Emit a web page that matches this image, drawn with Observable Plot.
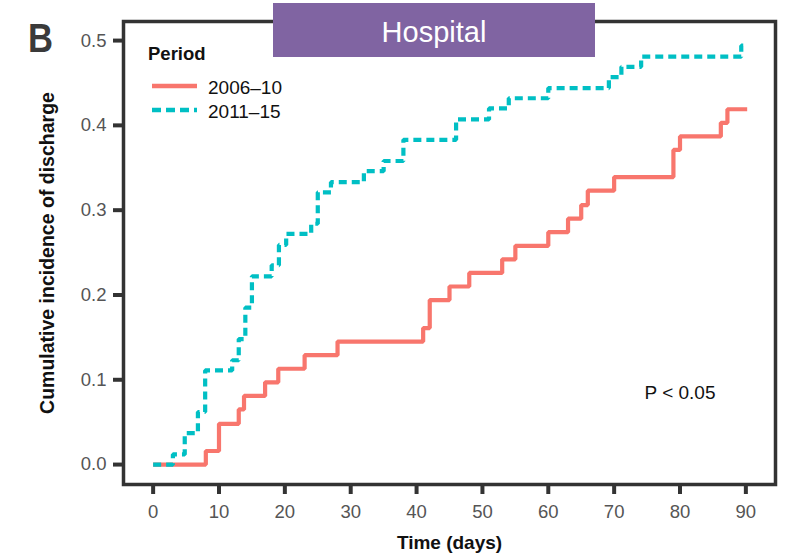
<!DOCTYPE html>
<html>
<head>
<meta charset="utf-8">
<script src="https://cdn.jsdelivr.net/npm/d3@7"></script>
<script src="https://cdn.jsdelivr.net/npm/@observablehq/plot@0.6"></script>
<style>
  html, body { margin: 0; padding: 0; background: #fff; }
  #wrap { position: relative; width: 785px; height: 555px; font-family: "Liberation Sans", Arial, Helvetica, sans-serif; }
  #overlay { position: absolute; left: 0; top: 0; pointer-events: none; }
</style>
</head>
<body>
<div id="wrap"></div>
<script>
// ---- Data ----
const periods = ["2006–10", "2011–15"];
const colors = ["#F8766D", "#00BFC4"];

const time2006 = [0, 8, 10, 13, 13.8, 17, 19, 23, 28, 41, 42, 45, 48, 53, 55, 60, 63, 65, 66, 70, 79, 80, 86.2, 87.2, 90.2];
const cum2006  = [0, 0.016, 0.048, 0.065, 0.081, 0.097, 0.113, 0.129, 0.145, 0.161, 0.194, 0.210, 0.226, 0.242, 0.258, 0.274, 0.290, 0.306, 0.323, 0.339, 0.371, 0.387, 0.403, 0.419, 0.419];

const time2011 = [0, 3, 4.8, 6.8, 7.9, 12, 13, 14, 15, 18, 19.1, 20.2, 24, 25, 27, 32, 35, 38, 46, 51, 54, 60, 69.2, 71.1, 74.1, 89.3, 90];
const cum2011  = [0, 0.012, 0.037, 0.062, 0.111, 0.123, 0.148, 0.185, 0.222, 0.235, 0.259, 0.272, 0.284, 0.321, 0.333, 0.346, 0.358, 0.383, 0.407, 0.420, 0.432, 0.444, 0.457, 0.469, 0.481, 0.494, 0.494];

const xTicks = [0, 10, 20, 30, 40, 50, 60, 70, 80, 90];
const yTicks = [0, 0.1, 0.2, 0.3, 0.4, 0.5];

const xTitle = "Time (days)";
const yTitle = "Cumulative incidence of discharge";
const pText = "P < 0.05";
const panelLabel = "B";
const boxTitle = "Hospital";
const legendTitle = "Period";

const d2006 = time2006.map((t, i) => ({t, v: cum2006[i]}));
const d2011 = time2011.map((t, i) => ({t, v: cum2011[i]}));

const font = '"Liberation Sans", Arial, Helvetica, sans-serif';

const chart = Plot.plot({
  width: 785,
  height: 555,
  marginLeft: 123,
  marginRight: 10,
  marginTop: 21,
  marginBottom: 71,
  x: {domain: [-4.5, 94.5]},
  y: {domain: [-0.0235, 0.5225]},
  style: {fontFamily: font, fontSize: "18.5px", background: "#fff", overflow: "visible"},
  marks: [
    Plot.frame({stroke: "#333", strokeWidth: 3.5}),
    Plot.line(d2006, {x: "t", y: "v", curve: "step-after", stroke: colors[0], strokeWidth: 4.2, strokeLinejoin: "miter", strokeLinecap: "butt"}),
    Plot.line(d2011, {x: "t", y: "v", curve: "step-after", stroke: colors[1], strokeWidth: 4.2, strokeDasharray: "8,5", strokeLinejoin: "miter", strokeLinecap: "butt"}),
    Plot.axisY({ticks: yTicks, tickFormat: d => d.toFixed(1), tickSize: 10, tickPadding: 7, stroke: "#333", strokeWidth: 4, fill: "#555", label: null}),
    Plot.axisX({ticks: xTicks, tickFormat: d => String(d), tickSize: 10, tickPadding: 10, stroke: "#333", strokeWidth: 4, fill: "#555", label: null}),
    Plot.text([xTitle], {frameAnchor: "bottom", dy: 64, text: d => d, fontWeight: "bold", fontSize: 19, fill: "#111", textAnchor: "middle"}),
    Plot.text([yTitle], {frameAnchor: "left", dx: -76, rotate: -90, text: d => d, fontWeight: "bold", fontSize: 19.5, fill: "#111", textAnchor: "middle"}),
    Plot.text([pText], {x: () => 80, y: () => 0.084, text: d => d, fontSize: 19, fill: "#111", textAnchor: "middle"})
  ]
});

const wrap = document.getElementById("wrap");
wrap.appendChild(chart);

// Overlay: panel label, header box, legend
const ns = "http://www.w3.org/2000/svg";
const ov = document.createElementNS(ns, "svg");
ov.setAttribute("id", "overlay");
ov.setAttribute("width", 785);
ov.setAttribute("height", 555);
ov.setAttribute("font-family", font);
function el(name, attrs, text) {
  const e = document.createElementNS(ns, name);
  for (const k in attrs) e.setAttribute(k, attrs[k]);
  if (text != null) e.textContent = text;
  ov.appendChild(e);
  return e;
}
el("text", {x: 28, y: 51.5, "font-size": 40, "font-weight": "bold", fill: "#3a3a3a", textLength: 25, lengthAdjust: "spacingAndGlyphs"}, panelLabel);
el("rect", {x: 273, y: 3, width: 322, height: 54, fill: "#8064A2"});
el("text", {x: 434, y: 42, "font-size": 29, fill: "#fff", "text-anchor": "middle"}, boxTitle);
el("text", {x: 148, y: 60, "font-size": 18.5, "font-weight": "bold", fill: "#111"}, legendTitle);
el("line", {x1: 152, x2: 197, y1: 86, y2: 86, stroke: colors[0], "stroke-width": 4.5});
el("line", {x1: 152, x2: 197, y1: 110, y2: 110, stroke: colors[1], "stroke-width": 4.5, "stroke-dasharray": "9,5"});
el("text", {x: 208, y: 93.5, "font-size": 19, fill: "#111"}, periods[0]);
el("text", {x: 208, y: 117.5, "font-size": 19, fill: "#111"}, periods[1]);
wrap.appendChild(ov);
</script>
</body>
</html>
